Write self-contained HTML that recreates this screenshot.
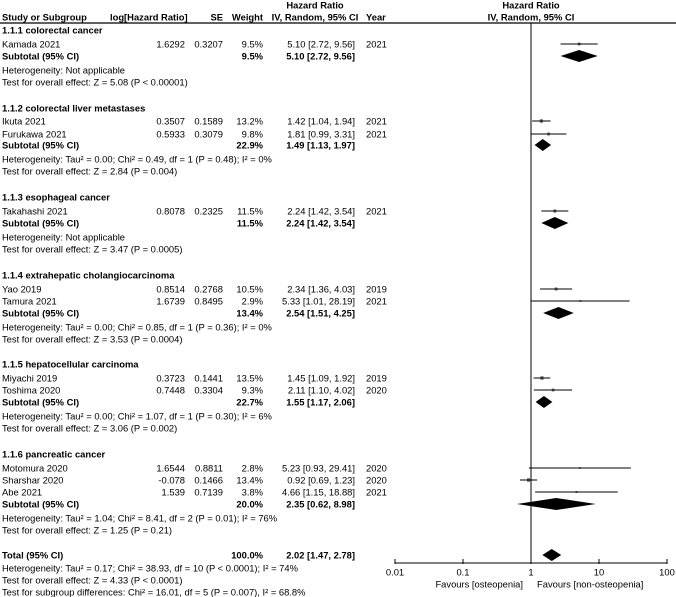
<!DOCTYPE html>
<html><head><meta charset="utf-8"><style>
body{margin:0;background:#fff}
svg{display:block;font-family:"Liberation Sans",Arial,sans-serif;font-size:9.4px;fill:#000}
.b{font-weight:bold}
</style></head><body>
<svg id="c" width="676" height="597" xmlns="http://www.w3.org/2000/svg"></svg>
<script>
const studyNames=["Kamada 2021","Ikuta 2021","Furukawa 2021","Takahashi 2021","Yao 2019","Tamura 2021","Miyachi 2019","Toshima 2020","Motomura 2020","Sharshar 2020","Abe 2021"];
const studyLogHR=["1.6292","0.3507","0.5933","0.8078","0.8514","1.6739","0.3723","0.7448","1.6544","-0.078","1.539"];
const studySE=["0.3207","0.1589","0.3079","0.2325","0.2768","0.8495","0.1441","0.3304","0.8811","0.1466","0.7139"];
const studyWeight=[9.5,13.2,9.8,11.5,10.5,2.9,13.5,9.3,2.8,13.4,3.8];
const studyHR=[5.10,1.42,1.81,2.24,2.34,5.33,1.45,2.11,5.23,0.92,4.66];
const studyLo=[2.72,1.04,0.99,1.42,1.36,1.01,1.09,1.10,0.93,0.69,1.15];
const studyHi=[9.56,1.94,3.31,3.54,4.03,28.19,1.92,4.02,29.41,1.23,18.88];
const studyYear=["2021","2021","2021","2021","2019","2021","2019","2020","2020","2020","2021"];
const studyRowY=[44,121,134,211,289,301,378,390,468,480,492];
const subHR=[5.10,1.49,2.24,2.54,1.55,2.35,2.02];
const subLo=[2.72,1.13,1.42,1.51,1.17,0.62,1.47];
const subHi=[9.56,1.97,3.54,4.25,2.06,8.98,2.78];
const subWeight=["9.5%","22.9%","11.5%","13.4%","22.7%","20.0%","100.0%"];
const subRowY=[56,145,223,313,402,504,555];
const tickVals=[0.01,0.1,1,10,100];
const tickLabels=["0.01","0.1","1","10","100"];
const groupTitles=["1.1.1 colorectal cancer","1.1.2 colorectal liver metastases","1.1.3 esophageal cancer","1.1.4 extrahepatic cholangiocarcinoma","1.1.5 hepatocellular carcinoma","1.1.6 pancreatic cancer"];
const groupY=[30,108,197,275,364,454];
const hetTexts=["Heterogeneity: Not applicable","Heterogeneity: Tau² = 0.00; Chi² = 0.49, df = 1 (P = 0.48); I² = 0%","Heterogeneity: Not applicable","Heterogeneity: Tau² = 0.00; Chi² = 0.85, df = 1 (P = 0.36); I² = 0%","Heterogeneity: Tau² = 0.00; Chi² = 1.07, df = 1 (P = 0.30); I² = 6%","Heterogeneity: Tau² = 1.04; Chi² = 8.41, df = 2 (P = 0.01); I² = 76%","Heterogeneity: Tau² = 0.17; Chi² = 38.93, df = 10 (P < 0.0001); I² = 74%"];
const testTexts=["Test for overall effect: Z = 5.08 (P < 0.00001)","Test for overall effect: Z = 2.84 (P = 0.004)","Test for overall effect: Z = 3.47 (P = 0.0005)","Test for overall effect: Z = 3.53 (P = 0.0004)","Test for overall effect: Z = 3.06 (P = 0.002)","Test for overall effect: Z = 1.25 (P = 0.21)","Test for overall effect: Z = 4.33 (P < 0.0001)"];

const svg=document.getElementById('c');
const NS='http://www.w3.org/2000/svg';
function X(v){return 531+68*Math.log10(v);}
function el(t,a,p){const e=document.createElementNS(NS,t);for(const k in a)e.setAttribute(k,a[k]);(p||svg).appendChild(e);return e;}
function txt(s,x,y,anchor,cls,name){const e=el('text',{x:x,y:y+3.5,'text-anchor':anchor||'start'});if(cls)e.setAttribute('class',cls);e.textContent=s;


return e;}
function f2(v){return v.toFixed(2);}

txt("Hazard Ratio",315,5,'middle','b','header-hr');
txt("Hazard Ratio",531,5,'middle','b','header-hr-plot');
txt("Study or Subgroup",2,17,'start','b','header-study');
txt("log[Hazard Ratio]",110,17,'start','b','header-loghr');
txt("SE",223,17,'end','b','header-se');
txt("Weight",263,17,'end','b','header-weight');
txt("IV, Random, 95% CI",315,17,'middle','b','header-ci');
txt("Year",366,17,'start','b','header-year');
txt("IV, Random, 95% CI",531,17,'middle','b','header-ci-plot');
let hl=el('line',{x1:0,y1:23,x2:676,y2:23,stroke:'#000','stroke-width':1.3});


let vl=el('line',{x1:X(1),y1:23,x2:X(1),y2:563,stroke:'#000','stroke-width':1});



groupTitles.forEach((g,i)=>txt(g,2,groupY[i],'start','b','group-title'));

studyNames.forEach((n,i)=>{
  const y=studyRowY[i];
  txt(n,2,y,'start',null,'study-name');
  txt(studyLogHR[i],185,y,'end',null,'study-loghr');
  txt(studySE[i],223,y,'end',null,'study-se');
  txt(studyWeight[i].toFixed(1)+'%',263,y,'end',null,'study-weight');
  txt(f2(studyHR[i])+' ['+f2(studyLo[i])+', '+f2(studyHi[i])+']',355,y,'end',null,'study-ci');
  txt(studyYear[i],366,y,'start',null,'study-year');
  const x1=Math.max(X(studyLo[i]),X(0.01)),x2=Math.min(X(studyHi[i]),X(100));
  const l=el('line',{x1:x1,y1:y,x2:x2,y2:y,stroke:'#000','stroke-width':1});
  
  
  const s=1.5+studyWeight[i]*0.12;
  const r=el('rect',{x:X(studyHR[i])-s/2,y:y-s/2,width:s,height:s,fill:'#333'});
  
  
});

subRowY.forEach((y,i)=>{
  const last=i===subRowY.length-1;
  txt(last?"Total (95% CI)":"Subtotal (95% CI)",2,y,'start','b','subtotal-label');
  txt(subWeight[i],263,y,'end','b','subtotal-weight');
  txt(f2(subHR[i])+' ['+f2(subLo[i])+', '+f2(subHi[i])+']',355,y,'end','b','subtotal-ci');
  const xl=X(subLo[i]),xc=X(subHR[i]),xr=X(subHi[i]);
  const d=el('polygon',{points:`${xl},${y} ${xc},${y-6} ${xr},${y} ${xc},${y+6}`,fill:'#000'});
  
  
  txt(hetTexts[i],2,y+(last?13:14),'start',null,'heterogeneity');
  txt(testTexts[i],2,y+(last?25:26),'start',null,'overall-effect');
});
txt("Test for subgroup differences: Chi² = 16.01, df = 5 (P = 0.007), I² = 68.8%",2,592,'start',null,'subgroup-test');

const ay=563;
const ax=el('line',{x1:X(0.01),y1:ay,x2:X(100),y2:ay,stroke:'#000','stroke-width':1});


tickVals.forEach((v,i)=>{
  const t=el('line',{x1:X(v),y1:ay-4,x2:X(v),y2:ay+1,stroke:'#000'});
  
  
  txt(tickLabels[i],X(v),ay+9,'middle',null,'x-tick-label');
});
txt("Favours [osteopenia]",523,ay+21,'end',null,'favours-left');
txt("Favours [non-osteopenia]",537,ay+21,'start',null,'favours-right');
</script>
</body></html>
